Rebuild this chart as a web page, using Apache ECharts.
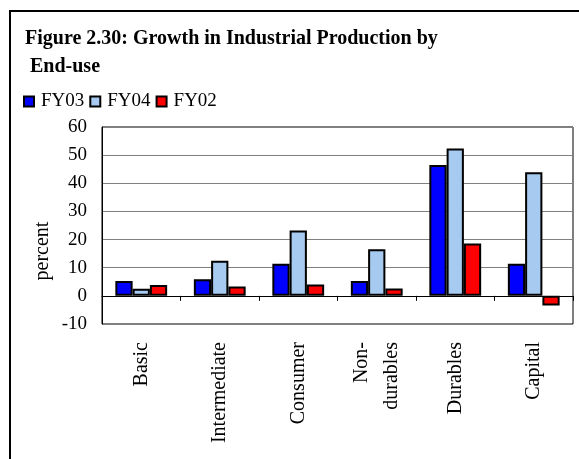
<!DOCTYPE html>
<html>
<head>
<meta charset="utf-8">
<script src="https://cdn.jsdelivr.net/npm/echarts@6/dist/echarts.min.js"></script>
<style>
  html, body { margin: 0; padding: 0; background: #fff; }
  #chart { width: 579px; height: 459px; }
</style>
</head>
<body>
<div id="chart"></div>
<script>
// categories and values
const categories = ['Basic', 'Intermediate', 'Consumer', 'Non-\ndurables', 'Durables', 'Capital'];
const fy03 = [5.3, 5.9, 11.4, 5.3, 46.5, 11.4];
const fy04 = [2.5, 12.5, 23.2, 16.6, 52.4, 43.9];
const fy02 = [3.9, 3.3, 4.0, 2.6, 18.6, -3.4];
const yTicks = { min: -10, max: 60, step: 10 };

const serif = 'Liberation Serif, Times New Roman, serif';

const chart = echarts.init(document.getElementById('chart'));

function barSeries(name, data, color) {
    return {
        name: name, type: 'bar', data: data,
        barGap: '0%', barCategoryGap: '34%',
        itemStyle: { color: color, borderColor: '#000', borderWidth: 2 }
    };
}

chart.setOption({
    animation: false,
    graphic: [
        // outer frame
        { type: 'rect', shape: { x: 10, y: 11, width: 600, height: 500 },
          style: { fill: 'none', stroke: '#000', lineWidth: 2 } },
        { type: 'text', left: 25, top: 29,
          style: { text: 'Figure 2.30: Growth in Industrial Production by', font: 'bold 20px ' + serif, fill: '#000' } },
        { type: 'text', left: 30, top: 57,
          style: { text: 'End-use', font: 'bold 20px ' + serif, fill: '#000' } },
        { type: 'text', x: 43, y: 251, rotation: Math.PI / 2,
          style: { text: 'percent', font: '20px ' + serif, fill: '#000', align: 'center', verticalAlign: 'middle' } }
    ],
    legend: {
        left: 18, top: 87,
        itemWidth: 10, itemHeight: 10, itemGap: 5,
        icon: 'rect',
        textStyle: { fontFamily: serif, fontSize: 19, color: '#000', padding: [0, 0, 0, 2] },
        data: ['FY03', 'FY04', 'FY02']
    },
    grid: {
        left: 102, right: 6, top: 127, bottom: 135,
        outerBoundsMode: 'none', containLabel: false,
        show: true, borderColor: '#000', borderWidth: 1
    },
    xAxis: {
        type: 'category', data: categories,
        axisLine: { onZero: true, lineStyle: { color: '#000', width: 1 } },
        axisTick: { show: true, length: 5, lineStyle: { color: '#000' } },
        axisLabel: {
            rotate: 90, margin: 18, color: '#000',
            fontFamily: serif, fontSize: 20, lineHeight: 30, align: 'right'
        }
    },
    yAxis: {
        type: 'value', min: yTicks.min, max: yTicks.max, interval: yTicks.step,
        axisLine: { show: true, lineStyle: { color: '#000' } },
        axisTick: { show: false },
        axisLabel: { color: '#000', fontFamily: serif, fontSize: 19, margin: 15 },
        splitLine: { lineStyle: { color: '#808080', width: 1 } }
    },
    series: [
        barSeries('FY03', fy03, '#0000ff'),
        barSeries('FY04', fy04, '#a6caf0'),
        barSeries('FY02', fy02, '#ff0000')
    ]
});
</script>
</body>
</html>
